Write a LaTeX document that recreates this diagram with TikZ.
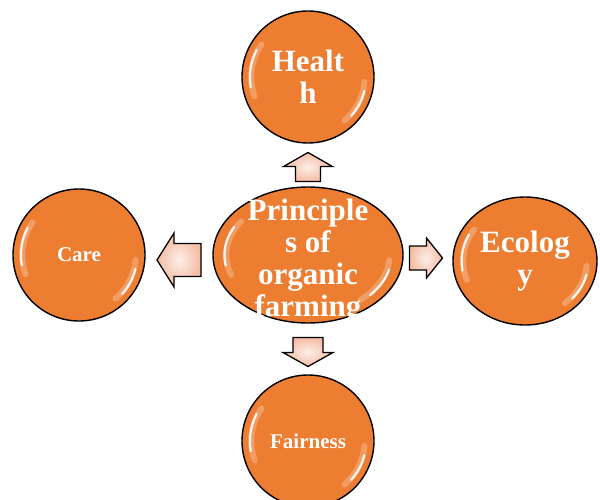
\documentclass[tikz,border=0pt]{standalone}
\usepackage{fontspec}
\setmainfont{Liberation Serif}
\usetikzlibrary{shapes.geometric,calc}

\definecolor{ballorange}{HTML}{ED7D31}
\definecolor{arrowpink}{HTML}{F4BBA3}

\tikzset{
	ball/.style={circle,draw=black,line width=1.4pt,fill=ballorange,minimum size=132pt,inner sep=0pt,
		text=white,font=\bfseries,align=center},
	bigtext/.style={font=\fontsize{31}{32}\selectfont\bfseries,text=white,align=center},
	smalltext/.style={font=\fontsize{21}{24}\selectfont\bfseries},
	glint/.style={white,line width=2.2pt,line cap=round,opacity=0.9},
	glow/.style={white,line width=6pt,line cap=round,opacity=0.25},
	pics/blockarrow/.style n args={4}{code={
		% length, head width, shaft width, head length
		\draw[line width=1.3pt,line join=miter,inner color=arrowpink!25!white,outer color=arrowpink]
			(-#1/2,#3/2)--(#1/2-#4,#3/2)--(#1/2-#4,#2/2)--(#1/2,0)
			--(#1/2-#4,-#2/2)--(#1/2-#4,-#3/2)--(-#1/2,-#3/2)--cycle;
	}}
}

% white shine on a ball: name, x radius, y radius
\newcommand{\shine}[3]{%
	\draw[glow] ($(#1.center)+(145:{0.86*#2} and {0.86*#3})$)
		arc[start angle=145,end angle=200,x radius={0.86*#2},y radius={0.86*#3}];
	\draw[glint] ($(#1.center)+(152:{0.88*#2} and {0.88*#3})$)
		arc[start angle=152,end angle=190,x radius={0.88*#2},y radius={0.88*#3}];
	\draw[glow] ($(#1.center)+(-5:{0.86*#2} and {0.86*#3})$)
		arc[start angle=-5,end angle=-50,x radius={0.86*#2},y radius={0.86*#3}];
	\draw[glint] ($(#1.center)+(-14:{0.88*#2} and {0.88*#3})$)
		arc[start angle=-14,end angle=-42,x radius={0.88*#2},y radius={0.88*#3}];
}

\begin{document}
\begin{tikzpicture}[x=1pt,y=1pt]
		\useasboundingbox (0,0) rectangle (600,499);
		\clip (0,0) rectangle (600,499);

		% the five balls
		\node[ball,ellipse,minimum width=190pt,minimum height=136pt,
			label={[bigtext,yshift=-6pt]center:Principle\\s of\\organic\\farming}] (mid) at (308,244) {};
		\node[ball,bigtext] (health) at (308,422) {Healt\\h};
		\node[ball,smalltext] (care) at (79,244) {Care};
		\node[ball,bigtext,ellipse,minimum width=144pt,minimum height=128pt] (ecology) at (525,238) {Ecolog\\y};
		\node[ball,smalltext] (fairness) at (308,58) {Fairness};

		\shine{mid}{95}{68}
		\shine{health}{66}{66}
		\shine{care}{66}{66}
		\shine{ecology}{72}{64}
		\shine{fairness}{66}{66}

		% block arrows out of the middle
		\pic[rotate=90] at ($(mid.north)!0.5!(health.south)+(0,-2)$) {blockarrow={29}{49}{25}{14}};
		\pic[rotate=180] at ($(mid.west)!0.5!(care.east)+(0,-5)$) {blockarrow={44}{54}{33}{17}};
		\pic at ($(mid.east)!0.5!(ecology.west)+(-2,0)$) {blockarrow={33}{40}{24}{16}};
		\pic[rotate=-90] at ($(mid.south)!0.5!(fairness.north)+(0,-3)$) {blockarrow={29}{50}{30}{14}};
\end{tikzpicture}
\end{document}
